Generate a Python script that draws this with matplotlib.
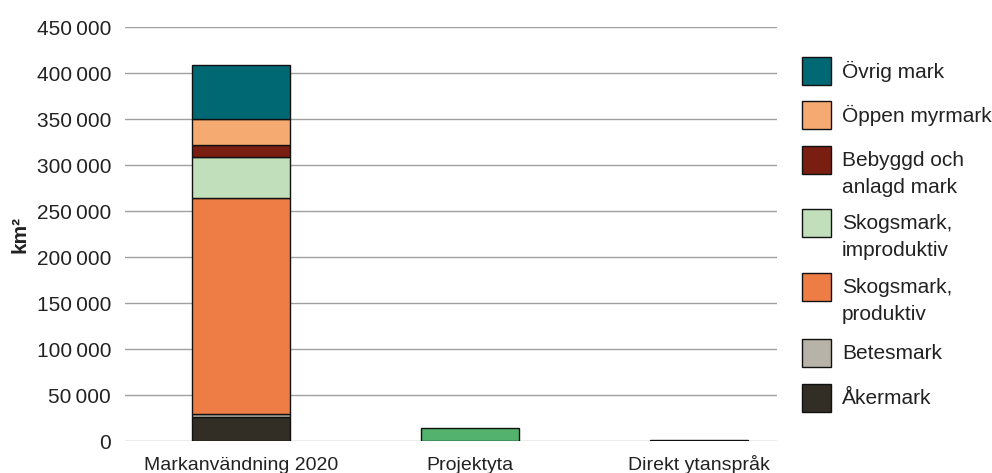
import matplotlib
matplotlib.use("Agg")
from matplotlib import pyplot as plt
from matplotlib.patches import Rectangle
import numpy as np

plt.rcParams['font.family'] = ['Liberation Sans', 'DejaVu Sans']

# Data (km²)
categories = ['Markanvändning 2020', 'Projektyta', 'Direkt ytanspråk']
layers = ['Åkermark', 'Betesmark', 'Skogsmark,\nproduktiv', 'Skogsmark,\nimproduktiv',
          'Bebyggd och\nanlagd mark', 'Öppen myrmark', 'Övrig mark']
layer_values = [26000, 3500, 234500, 44500, 13000, 29000, 58500]
layer_colors = ['#332e25', '#b8b3a9', '#ee7d45', '#c1dfba', '#7a1e12', '#f5aa72', '#006872']
projekt_value = 14500
direkt_value = 900
projekt_color = '#52b26e'
yticks = np.arange(0, 450001, 50000)

W, H = 992, 473
fig = plt.figure(figsize=(W / 100, H / 100), dpi=100)
ax = fig.add_axes([125 / W, 1 - 441 / H, (777 - 125) / W, (441 - 27) / H])

x = np.arange(len(categories))
width = 0.43

# stacked bar for the first category
bottom = 0
for val, col in zip(layer_values, layer_colors):
    ax.bar(x[0], val, width, bottom=bottom, color=col, edgecolor='#111111',
           linewidth=1.0, zorder=3)
    bottom += val

ax.bar(x[1], projekt_value, width, color=projekt_color, edgecolor='#111111',
       linewidth=1.0, zorder=3)
ax.bar(x[2], direkt_value, width, color='#222222', edgecolor='#111111',
       linewidth=1.0, zorder=3)

ax.set_xlim(-0.507, 2.34)
ax.set_ylim(0, 450000)
ax.set_yticks(yticks)
ax.set_yticklabels([f"{v:,}".replace(',', '\u2009') for v in yticks])
ax.set_xticks(x)
ax.set_xticklabels(categories)
ax.tick_params(axis='both', length=0, labelsize=14, colors='#222222')
ax.tick_params(axis='y', pad=10, labelsize=15)
ax.tick_params(axis='x', pad=21)
for lab in ax.get_xticklabels():
    lab.set_va('baseline')
ax.grid(axis='y', color='#a0a0a0', linewidth=1.0, zorder=0)
for s in ax.spines.values():
    s.set_visible(False)

ax.set_ylabel('km²', fontsize=15, fontweight='bold', color='#222222')
ax.yaxis.set_label_coords(-0.146, 0.5)

# legend drawn in figure pixels, top to bottom
legend_items = list(zip(layers, layer_colors))[::-1]
patch_tops = [57, 101, 146, 209, 273, 339, 384]
for (lab, col), top in zip(legend_items, patch_tops):
    fig.add_artist(Rectangle((802 / W, 1 - (top + 28) / H), 29 / W, 28 / H,
                             facecolor=col, edgecolor='#111111', linewidth=1.0,
                             transform=fig.transFigure))
    if '\n' in lab:
        fig.text(842 / W, 1 - (top + 5) / H, lab, fontsize=15, color='#222222',
                 va='top', linespacing=1.5, transform=fig.transFigure)
    else:
        fig.text(842 / W, 1 - (top + 14) / H, lab, fontsize=15, color='#222222',
                 va='center', transform=fig.transFigure)

fig.savefig('out.png', dpi=100)
